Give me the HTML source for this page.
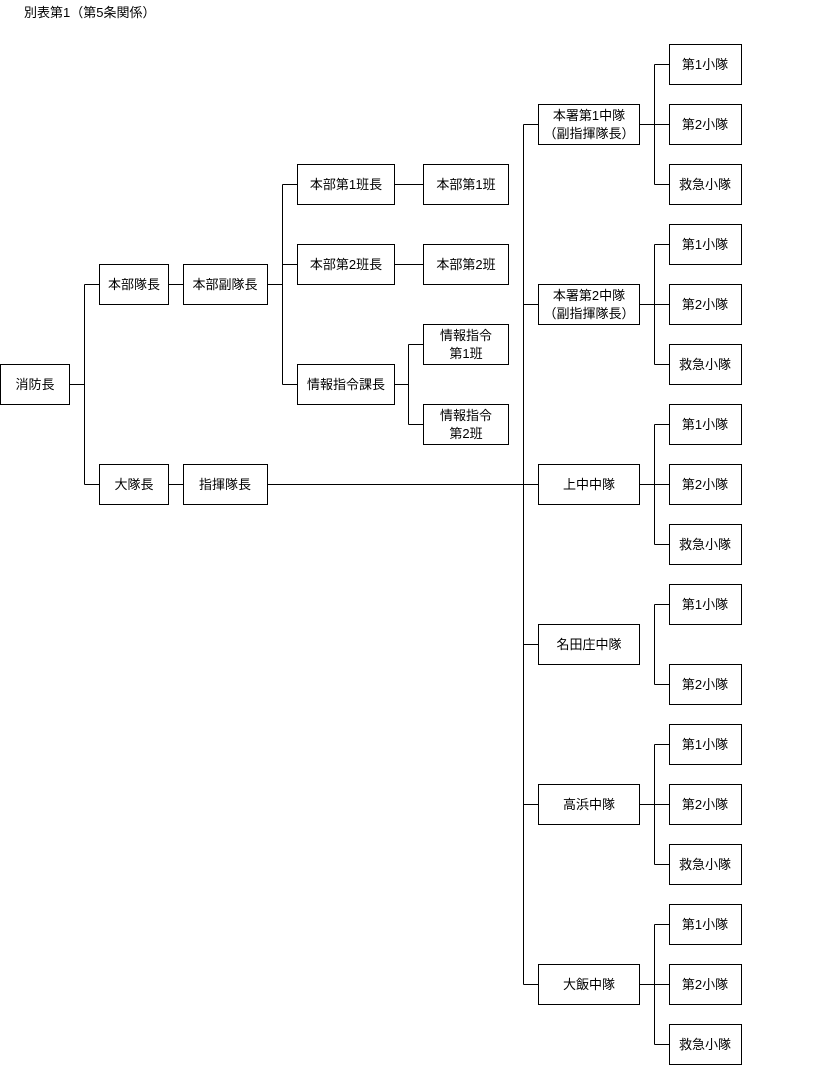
<!DOCTYPE html>
<html><head><meta charset="utf-8"><style>
html,body{margin:0;padding:0;background:#fff;}
svg{display:block;}
text{font-family:"Liberation Sans","Noto Sans CJK JP",sans-serif;font-size:13px;fill:#000;}
</style></head><body>
<svg width="819" height="1065" viewBox="0 0 819 1065" xmlns="http://www.w3.org/2000/svg">
<text x="24" y="17">別表第1（第5条関係）</text>
<g fill="none" stroke="#000" stroke-width="1">
<!-- boxes -->
<rect x="0.5" y="364.5" width="69" height="40"/>
<rect x="99.5" y="264.5" width="69" height="40"/>
<rect x="183.5" y="264.5" width="84" height="40"/>
<rect x="99.5" y="464.5" width="69" height="40"/>
<rect x="183.5" y="464.5" width="84" height="40"/>
<rect x="297.5" y="164.5" width="97" height="40"/>
<rect x="297.5" y="244.5" width="97" height="40"/>
<rect x="297.5" y="364.5" width="97" height="40"/>
<rect x="423.5" y="164.5" width="85" height="40"/>
<rect x="423.5" y="244.5" width="85" height="40"/>
<rect x="423.5" y="324.5" width="85" height="40"/>
<rect x="423.5" y="404.5" width="85" height="40"/>
<rect x="538.5" y="104.5" width="101" height="40"/>
<rect x="538.5" y="284.5" width="101" height="40"/>
<rect x="538.5" y="464.5" width="101" height="40"/>
<rect x="538.5" y="624.5" width="101" height="40"/>
<rect x="538.5" y="784.5" width="101" height="40"/>
<rect x="538.5" y="964.5" width="101" height="40"/>
<rect x="669.5" y="44.5" width="72" height="40"/>
<rect x="669.5" y="104.5" width="72" height="40"/>
<rect x="669.5" y="164.5" width="72" height="40"/>
<rect x="669.5" y="224.5" width="72" height="40"/>
<rect x="669.5" y="284.5" width="72" height="40"/>
<rect x="669.5" y="344.5" width="72" height="40"/>
<rect x="669.5" y="404.5" width="72" height="40"/>
<rect x="669.5" y="464.5" width="72" height="40"/>
<rect x="669.5" y="524.5" width="72" height="40"/>
<rect x="669.5" y="584.5" width="72" height="40"/>
<rect x="669.5" y="664.5" width="72" height="40"/>
<rect x="669.5" y="724.5" width="72" height="40"/>
<rect x="669.5" y="784.5" width="72" height="40"/>
<rect x="669.5" y="844.5" width="72" height="40"/>
<rect x="669.5" y="904.5" width="72" height="40"/>
<rect x="669.5" y="964.5" width="72" height="40"/>
<rect x="669.5" y="1024.5" width="72" height="40"/>
<!-- connectors -->
<path d="M69.5 384.5H84.5 M84.5 284.5V484.5 M84.5 284.5H99.5 M84.5 484.5H99.5"/>
<path d="M168.5 284.5H183.5 M168.5 484.5H183.5"/>
<path d="M267.5 284.5H282.5 M282.5 184.5V384.5 M282.5 184.5H297.5 M282.5 264.5H297.5 M282.5 384.5H297.5"/>
<path d="M394.5 184.5H423.5 M394.5 264.5H423.5 M394.5 384.5H408.5 M408.5 344.5V424.5 M408.5 344.5H423.5 M408.5 424.5H423.5"/>
<path d="M267.5 484.5H538.5 M523.5 124.5V984.5 M523.5 124.5H538.5 M523.5 304.5H538.5 M523.5 644.5H538.5 M523.5 804.5H538.5 M523.5 984.5H538.5"/>
<path d="M639.5 124.5H669.5 M654.5 64.5V184.5 M654.5 64.5H669.5 M654.5 184.5H669.5"/>
<path d="M639.5 304.5H669.5 M654.5 244.5V364.5 M654.5 244.5H669.5 M654.5 364.5H669.5"/>
<path d="M639.5 484.5H669.5 M654.5 424.5V544.5 M654.5 424.5H669.5 M654.5 544.5H669.5"/>
<path d="M654.5 604.5V684.5 M654.5 604.5H669.5 M654.5 684.5H669.5"/>
<path d="M639.5 804.5H669.5 M654.5 744.5V864.5 M654.5 744.5H669.5 M654.5 864.5H669.5"/>
<path d="M639.5 984.5H669.5 M654.5 924.5V1044.5 M654.5 924.5H669.5 M654.5 1044.5H669.5"/>
</g>
<g text-anchor="middle">
<text x="35" y="389">消防長</text>
<text x="134" y="289">本部隊長</text>
<text x="225" y="289">本部副隊長</text>
<text x="134" y="489">大隊長</text>
<text x="225" y="489">指揮隊長</text>
<text x="346" y="189">本部第1班長</text>
<text x="346" y="269">本部第2班長</text>
<text x="346" y="389">情報指令課長</text>
<text x="466" y="189">本部第1班</text>
<text x="466" y="269">本部第2班</text>
<text x="466" y="340">情報指令</text>
<text x="466" y="358">第1班</text>
<text x="466" y="420">情報指令</text>
<text x="466" y="438">第2班</text>
<text x="589" y="120">本署第1中隊</text>
<text x="589" y="138">（副指揮隊長）</text>
<text x="589" y="300">本署第2中隊</text>
<text x="589" y="318">（副指揮隊長）</text>
<text x="589" y="489">上中中隊</text>
<text x="589" y="649">名田庄中隊</text>
<text x="589" y="809">高浜中隊</text>
<text x="589" y="989">大飯中隊</text>
<text x="705" y="69">第1小隊</text>
<text x="705" y="129">第2小隊</text>
<text x="705" y="189">救急小隊</text>
<text x="705" y="249">第1小隊</text>
<text x="705" y="309">第2小隊</text>
<text x="705" y="369">救急小隊</text>
<text x="705" y="429">第1小隊</text>
<text x="705" y="489">第2小隊</text>
<text x="705" y="549">救急小隊</text>
<text x="705" y="609">第1小隊</text>
<text x="705" y="689">第2小隊</text>
<text x="705" y="749">第1小隊</text>
<text x="705" y="809">第2小隊</text>
<text x="705" y="869">救急小隊</text>
<text x="705" y="929">第1小隊</text>
<text x="705" y="989">第2小隊</text>
<text x="705" y="1049">救急小隊</text>
</g>
</svg>
</body></html>
